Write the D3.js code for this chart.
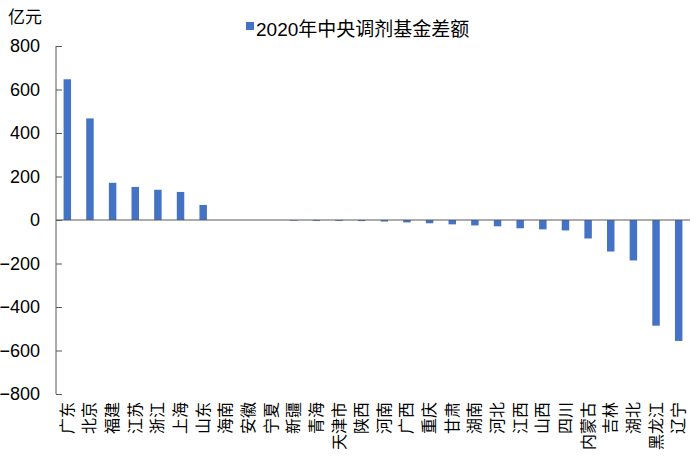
<!DOCTYPE html>
<html><head><meta charset="utf-8">
<script src="https://cdn.jsdelivr.net/npm/d3@7"></script>
<style>body{margin:0;background:#fff}svg{display:block}</style>
</head><body>
<script>
const categories = ["广东","北京","福建","江苏","浙江","上海","山东","海南","安徽","宁夏","新疆","青海","天津市","陕西","河南","广西","重庆","甘肃","湖南","河北","江西","山西","四川","内蒙古","吉林","湖北","黑龙江","辽宁"];
const values = [647,467,171,152,139,129,69,0,0,0,-3,-4,-4,-5,-7,-11,-15,-20,-25,-29,-38,-43,-48,-85,-145,-186,-486,-556];
const yTicks = [800,600,400,200,0,-200,-400,-600,-800];
const seriesName = "2020年中央调剂基金差额";
const unit = "亿元";

const W = 699, H = 468;
const mLeft = 56, mRight = 690, mTop = 46, mBottom = 394;
const font = "'Liberation Sans', Arial, 'Noto Sans CJK SC', sans-serif";
const svg = d3.select("body").append("svg").attr("width", W).attr("height", H);

const x = d3.scaleBand().domain(categories).range([mLeft, mRight]).paddingInner(0.67).paddingOuter(0.335);
const y = d3.scaleLinear().domain([-800, 800]).range([mBottom, mTop]);

// bars
svg.append("g").selectAll("rect").data(values).join("rect")
  .attr("x", (d, i) => x(categories[i]))
  .attr("width", x.bandwidth())
  .attr("y", d => y(Math.max(0, d)))
  .attr("height", d => Math.abs(y(d) - y(0)))
  .attr("fill", "#4472C4");

// zero line
svg.append("line").attr("x1", mLeft).attr("x2", mRight).attr("y1", y(0)).attr("y2", y(0))
  .attr("stroke", "#595959").attr("stroke-width", 1);

// y axis with inward ticks
const yAxis = d3.axisLeft(y).tickValues(yTicks).tickSize(-6).tickPadding(16).tickFormat(d3.format("d"));
const gy = svg.append("g").attr("transform", `translate(${mLeft},0)`).call(yAxis);
gy.select(".domain").attr("stroke", "#595959").attr("d", `M0,${y(800)}V${y(-800)}`);
gy.selectAll(".tick line").attr("stroke", "#595959");
gy.selectAll(".tick text").attr("font-family", font).attr("font-size", 18).attr("fill", "#000");

// x labels
svg.append("g").selectAll("text").data(categories).join("text")
  .attr("transform", d => `translate(${x(d) + x.bandwidth() / 2 + 5.5},402) rotate(-90)`)
  .attr("text-anchor", "end")
  .attr("font-family", "'Noto Sans CJK SC', sans-serif")
  .attr("font-size", 16)
  .attr("fill", "#000")
  .text(d => d);

// unit
svg.append("text").attr("x", 8).attr("y", 23).attr("font-family", "'Noto Sans CJK SC', sans-serif")
  .attr("font-size", 17).attr("fill", "#000").text(unit);

// legend
svg.append("rect").attr("x", 246).attr("y", 22).attr("width", 8).attr("height", 8).attr("fill", "#4472C4");
svg.append("text").attr("x", 256).attr("y", 36).attr("font-family", font)
  .attr("font-size", 19).attr("fill", "#000").text(seriesName);
</script>
</body></html>
